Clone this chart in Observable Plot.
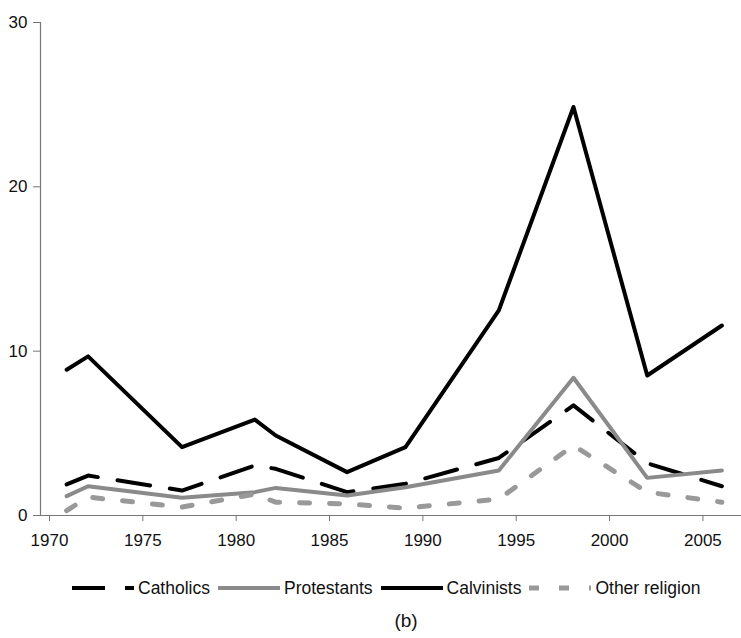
<!DOCTYPE html>
<html>
<head>
<meta charset="utf-8">
<script src="https://cdn.jsdelivr.net/npm/d3@7"></script>
<script src="https://cdn.jsdelivr.net/npm/@observablehq/plot@0.6"></script>
<style>
  html, body { margin: 0; padding: 0; background: #fff; }
  body { width: 741px; height: 638px; overflow: hidden; font-family: "Liberation Sans", Arial, sans-serif; }
  #legend { display: flex; align-items: center; margin-top: 18px; padding-left: 72px; height: 20px; font-size: 17.5px; color: #111; white-space: nowrap; }
  #legend .item { display: flex; align-items: center; margin-right: 8px; }
  #legend svg { display: block; }
  #legend span { margin-left: 4px; }
  #caption { margin-top: 12px; padding-left: 71px; text-align: center; font-size: 19px; line-height: 22px; color: #111; }
</style>
</head>
<body>
<div id="chart"></div>
<div id="legend"></div>
<div id="caption">(b)</div>
<script>
// Election dates (fractional years) and shares per religion
const years = [1971.4, 1972.55, 1977.58, 1981.48, 1982.6, 1986.42, 1989.55, 1994.55, 1998.55, 2002.5, 2006.5];
const catholics   = [1.89, 2.43, 1.52, 3.04, 2.84, 1.42, 1.93, 3.5, 6.7, 3.18, 1.78];
const protestants = [1.18, 1.78, 1.08, 1.42, 1.68, 1.22, 1.72, 2.74, 8.38, 2.29, 2.74];
const calvinists  = [8.87, 9.68, 4.16, 5.84, 4.87, 2.64, 4.16, 12.48, 24.86, 8.52, 11.56];
const otherReligion = [0.30, 1.12, 0.51, 1.3, 0.81, 0.71, 0.45, 1.0, 4.26, 1.42, 0.81];

const seriesNames = ["Catholics", "Protestants", "Calvinists", "Other religion"];
const xTicks = [1970, 1975, 1980, 1985, 1990, 1995, 2000, 2005];
const yTicks = [0, 10, 20, 30];

const styles = {
  "Catholics":      {stroke: "#000000", strokeWidth: 4, dash: "33,20"},
  "Protestants":    {stroke: "#8a8a8a", strokeWidth: 4, dash: null},
  "Calvinists":     {stroke: "#000000", strokeWidth: 4, dash: null},
  "Other religion": {stroke: "#999999", strokeWidth: 5, dash: "10,20"}
};
const valuesBy = {
  "Catholics": catholics,
  "Protestants": protestants,
  "Calvinists": calvinists,
  "Other religion": otherReligion
};
const rows = name => years.map((yr, i) => ({year: yr, value: valuesBy[name][i]}));

const lineMarks = seriesNames.map(name => {
  const s = styles[name];
  const opts = {x: "year", y: "value", stroke: s.stroke, strokeWidth: s.strokeWidth, strokeLinejoin: "round"};
  if (s.dash) opts.strokeDasharray = s.dash;
  return Plot.line(rows(name), opts);
});

const chart = Plot.plot({
  width: 741,
  height: 560,
  marginLeft: 40,
  marginRight: 0,
  marginTop: 22,
  marginBottom: 45,
  style: {fontFamily: "'Liberation Sans', Arial, sans-serif", fontSize: "17px", background: "#fff", color: "#111"},
  x: {domain: [1970, 2007.55], label: null},
  y: {domain: [0, 30], label: null},
  marks: [
    Plot.ruleY([0], {stroke: "#777", strokeWidth: 1.2}),
    Plot.ruleX([1970], {stroke: "#777", strokeWidth: 1.2}),
    Plot.axisX({ticks: xTicks, tickFormat: d => String(d), label: null, tickSize: 6, tickPadding: 12, dx: 9, fontSize: 17, stroke: "#777", fill: "#111"}),
    Plot.axisY({ticks: yTicks, label: null, tickSize: 7, tickPadding: 6, fontSize: 17, stroke: "#777", fill: "#111"}),
    ...lineMarks
  ]
});
document.getElementById("chart").appendChild(chart);

// Legend
const legend = document.getElementById("legend");
seriesNames.forEach(name => {
  const s = styles[name];
  const item = document.createElement("div");
  item.className = "item";
  const ns = "http://www.w3.org/2000/svg";
  const sw = document.createElementNS(ns, "svg");
  sw.setAttribute("width", 62);
  sw.setAttribute("height", 20);
  const ln = document.createElementNS(ns, "line");
  ln.setAttribute("x1", 0); ln.setAttribute("x2", 62);
  ln.setAttribute("y1", 10); ln.setAttribute("y2", 10);
  ln.setAttribute("stroke", s.stroke);
  ln.setAttribute("stroke-width", s.strokeWidth);
  if (s.dash) ln.setAttribute("stroke-dasharray", s.dash);
  sw.appendChild(ln);
  const tx = document.createElement("span");
  tx.textContent = name;
  item.appendChild(sw);
  item.appendChild(tx);
  legend.appendChild(item);
});
</script>
</body>
</html>
